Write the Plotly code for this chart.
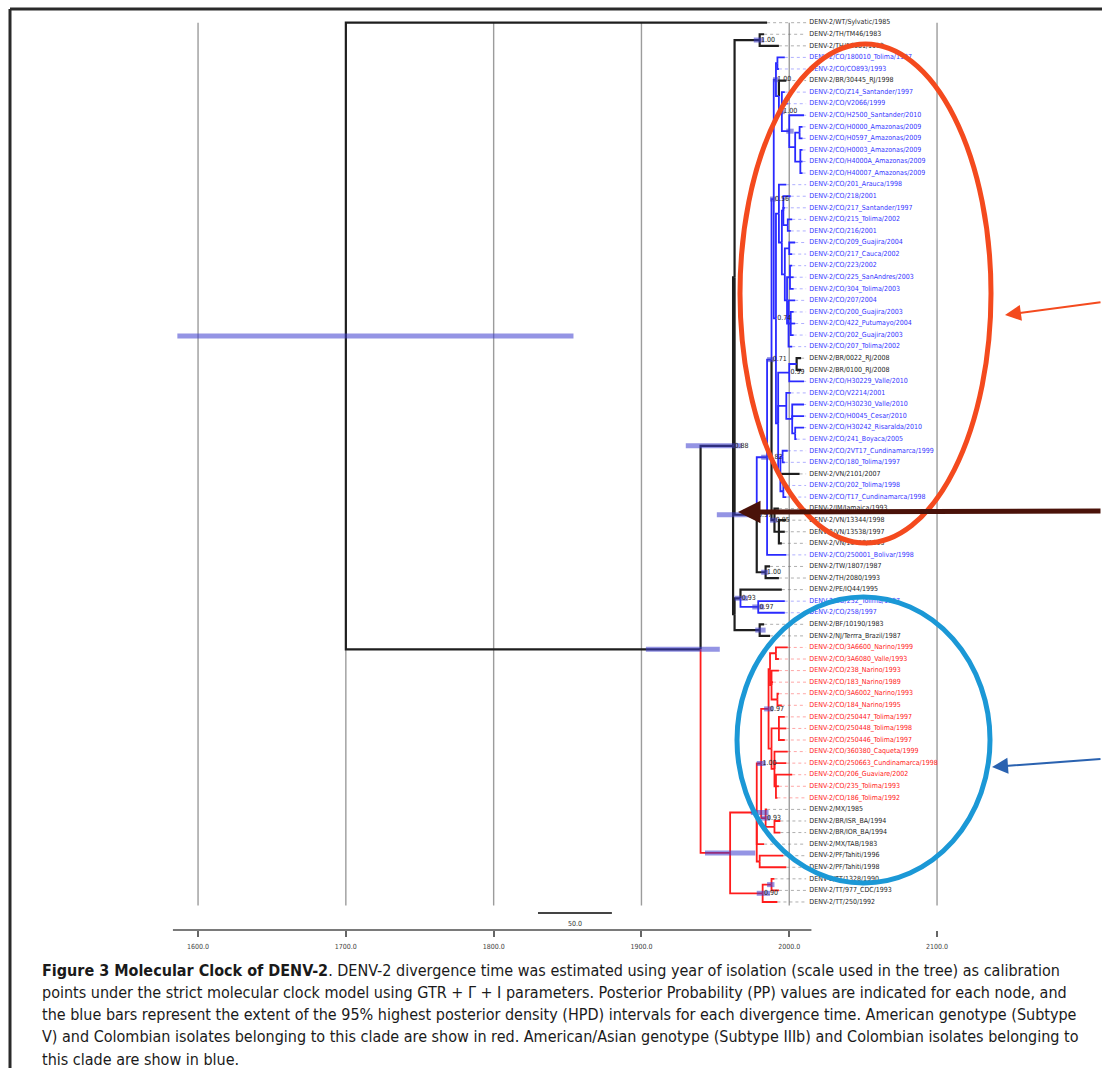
import plotly.graph_objects as go

# ---------------- page geometry ----------------
W, H = 1102, 1068
X_RANGE = [1466.0, 2211.6]   # years covered by the page width
Y_RANGE = [90.35, -1.962]    # tip rows covered by the page height (row 0 at top)
FONT = "DejaVu Sans Condensed, Liberation Sans, sans-serif"

# ---------------- tips ----------------
tip_names = [
    "DENV-2/WT/Sylvatic", "DENV-2/TH/TM46", "DENV-2/TH/16681",
    "DENV-2/CO/180010_Tolima", "DENV-2/CO/CO893", "DENV-2/BR/30445_RJ",
    "DENV-2/CO/Z14_Santander", "DENV-2/CO/V2066", "DENV-2/CO/H2500_Santander",
    "DENV-2/CO/H0000_Amazonas", "DENV-2/CO/H0597_Amazonas", "DENV-2/CO/H0003_Amazonas",
    "DENV-2/CO/H4000A_Amazonas", "DENV-2/CO/H40007_Amazonas", "DENV-2/CO/201_Arauca",
    "DENV-2/CO/218", "DENV-2/CO/217_Santander", "DENV-2/CO/215_Tolima",
    "DENV-2/CO/216", "DENV-2/CO/209_Guajira", "DENV-2/CO/217_Cauca",
    "DENV-2/CO/223", "DENV-2/CO/225_SanAndres", "DENV-2/CO/304_Tolima",
    "DENV-2/CO/207", "DENV-2/CO/200_Guajira", "DENV-2/CO/422_Putumayo",
    "DENV-2/CO/202_Guajira", "DENV-2/CO/207_Tolima", "DENV-2/BR/0022_RJ",
    "DENV-2/BR/0100_RJ", "DENV-2/CO/H30229_Valle", "DENV-2/CO/V2214",
    "DENV-2/CO/H30230_Valle", "DENV-2/CO/H0045_Cesar", "DENV-2/CO/H30242_Risaralda",
    "DENV-2/CO/241_Boyaca", "DENV-2/CO/2VT17_Cundinamarca", "DENV-2/CO/180_Tolima",
    "DENV-2/VN/2101", "DENV-2/CO/202_Tolima", "DENV-2/CO/T17_Cundinamarca",
    "DENV-2/JM/Jamaica", "DENV-2/VN/13344", "DENV-2/VN/13538",
    "DENV-2/VN/13410", "DENV-2/CO/250001_Bolivar", "DENV-2/TW/1807",
    "DENV-2/TH/2080", "DENV-2/PE/IQ44", "DENV-2/CO/252_Tolima",
    "DENV-2/CO/258", "DENV-2/BF/10190", "DENV-2/NJ/Terrra_Brazil",
    "DENV-2/CO/3A6600_Narino", "DENV-2/CO/3A6080_Valle", "DENV-2/CO/238_Narino",
    "DENV-2/CO/183_Narino", "DENV-2/CO/3A6002_Narino", "DENV-2/CO/184_Narino",
    "DENV-2/CO/250447_Tolima", "DENV-2/CO/250448_Tolima", "DENV-2/CO/250446_Tolima",
    "DENV-2/CO/360380_Caqueta", "DENV-2/CO/250663_Cundinamarca", "DENV-2/CO/206_Guaviare",
    "DENV-2/CO/235_Tolima", "DENV-2/CO/186_Tolima", "DENV-2/MX",
    "DENV-2/BR/ISR_BA", "DENV-2/BR/IOR_BA", "DENV-2/MX/TAB",
    "DENV-2/PF/Tahiti", "DENV-2/PF/Tahiti", "DENV-2/TT/1328",
    "DENV-2/TT/977_CDC", "DENV-2/TT/250",
]
tip_years = [
    1985, 1983, 1993, 1997, 1993, 1998, 1997, 1999, 2010, 2009,
    2009, 2009, 2009, 2009, 1998, 2001, 1997, 2002, 2001, 2004,
    2002, 2002, 2003, 2003, 2004, 2003, 2004, 2003, 2002, 2008,
    2008, 2010, 2001, 2010, 2010, 2010, 2005, 1999, 1997, 2007,
    1998, 1998, 1993, 1998, 1997, 1995, 1998, 1987, 1993, 1995,
    1997, 1997, 1983, 1987, 1999, 1993, 1993, 1989, 1993, 1995,
    1997, 1998, 1997, 1999, 1998, 2002, 1993, 1992, 1985, 1994,
    1994, 1983, 1996, 1998, 1990, 1993, 1992,
]
# k = other genotypes, b = American/Asian (IIIb), r = American (V)
tip_group = (["k", "k", "k", "b", "b", "k", "b", "b"] + ["b"] * 21 + ["k", "k"]
             + ["b"] * 8 + ["k", "b", "b", "k", "k", "k", "k", "b", "k", "k", "k",
                            "b", "b", "k", "k"] + ["r"] * 14 + ["k"] * 9)
tip_parent = [
    "R", "TH", "TH", "BT", "BT", "BCa2", "BCa3", "BCa3", "AM", "AM3",
    "AM3", "AM4", "AM4", "AM4", "BCb1", "S1", "S1", "S1a", "S1a", "S2a",
    "S2a", "S2c", "S2c", "S2c", "S2d", "S2e", "S2e", "S2e", "S2d", "V1a",
    "V1a", "V1", "V2", "V2a", "V2a", "V2b", "V2b", "V3a", "V3a", "V3",
    "V3b", "V3b", "G", "G2", "G2", "G2", "N82", "P", "P", "Q",
    "Q2", "Q2", "NJ", "NJ", "R1c", "R1c", "R1d", "R1d", "R1e", "R1e",
    "R1f", "R1f", "R1f", "R1g", "R1g", "R1h", "R1h", "R1h", "R2", "R2a",
    "R2a", "C1", "C1b", "C1b", "C2a", "C2a", "C2",
]

# ---------------- internal nodes ----------------
node_names = ["R", "A", "B", "B1", "TH", "X", "P", "N82", "N71", "G", "G2",
              "BC", "BCa", "BT", "BCa2", "BCa3", "AM", "AM2", "AM3", "AM4",
              "BCb", "BCb1", "BCb1a", "S1", "S1a", "S2", "S2a", "S2b", "S2c", "S2d", "S2e",
              "BCb2", "V1", "V1a", "V2", "V2a", "V2b", "V3", "V3a", "V3b",
              "B2", "Q", "Q2", "NJ",
              "C", "C1", "RC", "R1", "R1a", "R1c", "R1d", "R1e", "R1b", "R1f", "R1g", "R1h",
              "R2", "R2a", "C1b", "C2", "C2a"]
node_parent = [None, "R", "A", "B", "B1", "B1", "X", "X", "N82", "N71", "G",
               "N71", "BC", "BCa", "BCa", "BCa2", "BCa3", "AM", "AM2", "AM2",
               "BC", "BCb", "BCb1", "BCb1a", "S1", "BCb1a", "S2", "S2", "S2b", "S2b", "S2d",
               "BCb", "BCb2", "V1", "BCb2", "V2", "V2a", "BCb2", "V3", "V3",
               "B", "B2", "Q", "B2",
               "A", "C", "C1", "RC", "R1", "R1a", "R1a", "R1d", "R1", "R1b", "R1b", "R1g",
               "RC", "R2", "C1", "C", "C2"]
node_year = [1700, 1940, 1962, 1963, 1980, 1978, 1984, 1985, 1988, 1990, 1993,
             1989.5, 1991, 1992, 1993, 1995, 2000, 2004, 2007, 2007.5,
             1991, 1993, 1995, 1996, 1999, 1997, 2000, 1998.5, 2000.5, 1999.5, 2001,
             1992.5, 2000, 2005, 1998, 2002, 2004, 1994, 1995.5, 1996,
             1963, 1967, 1979, 1980,
             1960, 1978, 1981, 1986, 1987, 1991, 1988, 1992, 1988, 1993, 1990, 1991,
             1984, 1990, 1980, 1982, 1988]
node_group = (["k"] * 7 + ["b", "b", "k", "k"] + ["b"] * 29 + ["k", "k", "b", "k"]
              + ["r"] * 17)
node_pp = [None, None, "0.88", None, "1.00", "0.97", "1.00", "0.82", "0.71", "0.85", None,
           "0.56", "1.00", None, None, "1.00", None, None, None, None,
           "0.74", None, None, None, None, None, None, None, None, None, None,
           None, "0.99", None, None, None, None, None, None, None,
           None, "0.93", "0.97", None,
           None, None, "1.00", "0.97", None, None, None, None, None, None, None, None,
           "0.93", None, None, "0.90", None]
# 95% HPD intervals of node ages
hpd_low = [1586, 1903, 1930, None, 1976, 1951, 1981, 1981, 1985, 1987, None,
           1987, 1989, None, None, 1993, 1998, None, None, None,
           None, None, None, None, None, None, None, None, None, None, None,
           None, None, None, None, None, None, None, None, None,
           None, 1963, 1975, 1977,
           1943, 1974, 1978, 1983, None, None, None, None, None, None, None, None,
           1981, None, None, 1978, 1985]
hpd_high = [1854, 1953, 1968, None, 1983, 1981, 1986, 1988, 1990, 1992, None,
            1991, 1993, None, None, 1997, 2003, None, None, None,
            None, None, None, None, None, None, None, None, None, None, None,
            None, None, None, None, None, None, None, None, None,
            None, 1972, 1983, 1984,
            1977, 1986, 1984, 1989, None, None, None, None, None, None, None, None,
            1987, None, None, 1987, 1990]

# ---------------- time axis ----------------
axis_ticks = [1600, 1700, 1800, 1900, 2000, 2100]
axis_line_span = [1583, 2015]
scale_start, scale_length = 1830, 50

caption_lines = [
    "<b>Figure 3 Molecular Clock of DENV-2</b>. DENV-2 divergence time was estimated using year of isolation (scale used in the tree) as calibration",
    "points under the strict molecular clock model using GTR + \u0393 + I parameters. Posterior Probability (PP) values are indicated for each node, and",
    "the blue bars represent the extent of the 95% highest posterior density (HPD) intervals for each divergence time. American genotype (Subtype",
    "V) and Colombian isolates belonging to this clade are show in red. American/Asian genotype (Subtype IIIb) and Colombian isolates belonging to",
    "this clade are show in blue.",
]

# ---------------- layout of the tree ----------------
LINE_COL = {"k": "#1e1e1e", "b": "#2a2aff", "r": "#ff1c1c"}
TEXT_COL = {"k": "#262626", "b": "#3535ff", "r": "#ff2020"}
DOT_COL = {"k": "rgba(110,110,110,0.55)", "b": "rgba(80,80,255,0.45)", "r": "rgba(255,60,60,0.45)"}

n_tips = len(tip_names)
idx = {n: k for k, n in enumerate(node_names)}
children = {n: [] for n in node_names}
for i, p in enumerate(tip_parent):
    children[p].append(("t", i))
for n, p in zip(node_names, node_parent):
    if p is not None:
        children[p].append(("n", n))

node_y = {}


def y_of(key):
    if key[0] == "t":
        return float(key[1])
    name = key[1]
    if name not in node_y:
        ys = [y_of(c) for c in children[name]]
        node_y[name] = (min(ys) + max(ys)) / 2.0
    return node_y[name]


for n in node_names:
    y_of(("n", n))


def x_of(key):
    return tip_years[key[1]] if key[0] == "t" else node_year[idx[key[1]]]


def group_of(key, parent):
    if key[0] == "n":
        return node_group[idx[key[1]]]
    if node_group[idx[parent]] == "r":
        return "r"
    return tip_group[key[1]]


seg = {g: ([], []) for g in LINE_COL}
for n in node_names:
    px, py = node_year[idx[n]], node_y[n]
    for c in children[n]:
        g = group_of(c, n)
        cx, cy = x_of(c), y_of(c)
        xs, ys = seg[g]
        xs += [px, px, cx, None]
        ys += [py, cy, cy, None]

fig = go.Figure()

# grid lines of the time scale
gx, gy = [], []
for t in axis_ticks:
    gx += [t, t, None]
    gy += [0, 76.3, None]
fig.add_trace(go.Scatter(x=gx, y=gy, mode="lines", line=dict(color="#9c9c9c", width=1.4),
                         hoverinfo="skip"))

# dotted leaders from tips to their names
label_x = 2013.6
for g in DOT_COL:
    xs, ys = [], []
    for i in range(n_tips):
        if tip_group[i] == g:
            xs += [tip_years[i], 2011.4, None]
            ys += [i, i, None]
    fig.add_trace(go.Scatter(x=xs, y=ys, mode="lines",
                             line=dict(color=DOT_COL[g], width=1, dash="dot"), hoverinfo="skip"))

# branches
for g, (xs, ys) in seg.items():
    fig.add_trace(go.Scatter(x=xs, y=ys, mode="lines",
                             line=dict(color=LINE_COL[g], width=2.2 if g == "k" else 1.8),
                             hoverinfo="skip"))

# HPD bars
hx, hy = [], []
for n, lo, hi in zip(node_names, hpd_low, hpd_high):
    if lo is not None:
        hx += [lo, hi, None]
        hy += [node_y[n], node_y[n], None]
fig.add_trace(go.Scatter(x=hx, y=hy, mode="lines",
                         line=dict(color="rgba(60,60,205,0.55)", width=5), hoverinfo="skip"))

# posterior probabilities
px_, py_, pt_ = [], [], []
for n, pp in zip(node_names, node_pp):
    if pp is not None:
        px_.append(node_year[idx[n]] + 0.9)
        py_.append(node_y[n])
        pt_.append(pp)
fig.add_trace(go.Scatter(x=px_, y=py_, text=pt_, mode="text", textposition="middle right",
                         textfont=dict(family=FONT, size=7, color="#222"),
                         hoverinfo="skip"))

# tip names
for g in TEXT_COL:
    ii = [i for i in range(n_tips) if tip_group[i] == g]
    fig.add_trace(go.Scatter(
        x=[label_x] * len(ii), y=ii,
        text=[f"{tip_names[i]}/{tip_years[i]}" for i in ii],
        mode="text", textposition="middle right",
        textfont=dict(family=FONT, size=7, color=TEXT_COL[g]),
        hoverinfo="skip"))

# time axis baseline and scale bar
row_axis = (930 - 22.7) / 11.57
fig.add_trace(go.Scatter(x=axis_line_span, y=[row_axis, row_axis], mode="lines",
                         line=dict(color="#7a7a7a", width=2), hoverinfo="skip"))
row_scale = (913 - 22.7) / 11.57
fig.add_trace(go.Scatter(x=[scale_start, scale_start + scale_length], y=[row_scale, row_scale],
                         mode="lines", line=dict(color="#444", width=2), hoverinfo="skip"))
fig.add_trace(go.Scatter(x=[scale_start + scale_length / 2], y=[row_scale + 0.95],
                         text=[f"{scale_length:.1f}"], mode="text",
                         textfont=dict(family=FONT, size=7, color="#333"),
                         hoverinfo="skip"))

shapes = [
    # panel frame
    dict(type="line", xref="paper", yref="paper", x0=10 / W, x1=10 / W, y0=0, y1=1 - 9 / H,
         line=dict(color="#2a2a2a", width=3)),
    dict(type="line", xref="paper", yref="paper", x0=10 / W, x1=1, y0=1 - 9 / H, y1=1 - 9 / H,
         line=dict(color="#2a2a2a", width=3)),
    # highlighted clades
    dict(type="circle", xref="paper", yref="paper", x0=740 / W, x1=991 / W,
         y0=1 - 543 / H, y1=1 - 44 / H, line=dict(color="#f44a1e", width=5)),
    dict(type="circle", xref="paper", yref="paper", x0=737 / W, x1=990 / W,
         y0=1 - 883 / H, y1=1 - 597 / H, line=dict(color="#1b98d6", width=5)),
]

annotations = [
    dict(x=1005 / W, y=1 - 315 / H, xref="paper", yref="paper", ax=110, ay=-13,
         axref="pixel", ayref="pixel", text="", showarrow=True, arrowhead=2,
         arrowsize=1.6, arrowwidth=2, arrowcolor="#f44a1e", standoff=0),
    dict(x=738 / W, y=1 - 512 / H, xref="paper", yref="paper", ax=380, ay=-1,
         axref="pixel", ayref="pixel", text="", showarrow=True, arrowhead=2,
         arrowsize=0.9, arrowwidth=5, arrowcolor="#4a1209", standoff=0),
    dict(x=992 / W, y=1 - 767 / H, xref="paper", yref="paper", ax=120, ay=-8,
         axref="pixel", ayref="pixel", text="", showarrow=True, arrowhead=2,
         arrowsize=1.6, arrowwidth=2, arrowcolor="#2a62b0", standoff=0),
]
for k, line in enumerate(caption_lines):
    annotations.append(dict(
        x=40 / W, y=1 - (970 + 22.3 * k) / H, xref="paper", yref="paper",
        xanchor="left", yanchor="middle", showarrow=False, text=line,
        font=dict(family=FONT, size=16, color="#1a1a1a")))

fig.update_layout(
    width=W, height=H, margin=dict(l=0, r=0, t=0, b=0),
    paper_bgcolor="white", plot_bgcolor="white", showlegend=False,
    shapes=shapes, annotations=annotations,
    xaxis=dict(range=X_RANGE, domain=[0, 1], anchor="free", position=1 - 930 / H,
               showgrid=False, zeroline=False, showline=False,
               ticks="outside", ticklen=6, tickwidth=1.5, tickcolor="#666",
               tickvals=axis_ticks, ticktext=[f"{t:.1f}" for t in axis_ticks],
               tickfont=dict(family=FONT, size=7, color="#444"),
               ticklabelstandoff=4, fixedrange=True),
    yaxis=dict(range=Y_RANGE, domain=[0, 1], visible=False, fixedrange=True),
)

fig.write_html("out.html", config={"displayModeBar": False})
